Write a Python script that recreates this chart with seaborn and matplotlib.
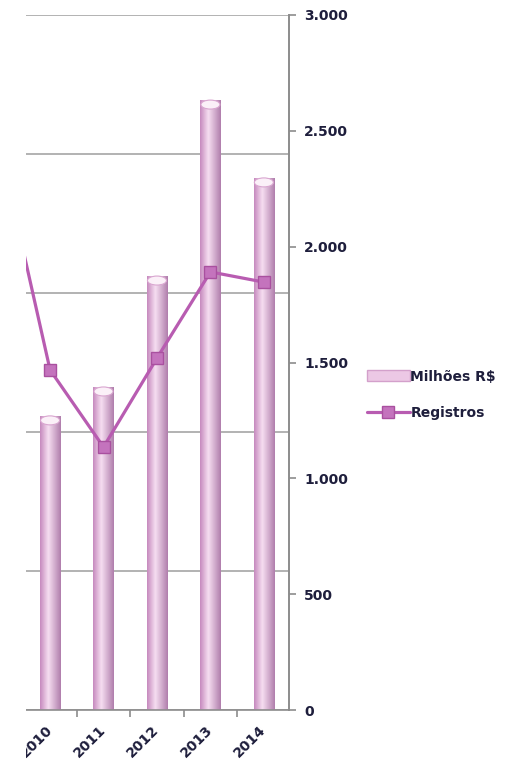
import numpy as np
import pandas as pd
import matplotlib
matplotlib.use("Agg")
import matplotlib.pyplot as plt
import seaborn as sns
from matplotlib.patches import Ellipse, Rectangle
from matplotlib.lines import Line2D
from matplotlib.ticker import FuncFormatter, FixedLocator

# Data
years = ["2009", "2010", "2011", "2012", "2013", "2014"]
milhoes = [np.nan, 1058, 1162, 1561, 2194, 1914]      # Milhões R$ (primary axis)
registros = [2495, 1468, 1135, 1519, 1891, 1847]     # Registros (secondary axis)
right_ticks = [0, 500, 1000, 1500, 2000, 2500, 3000]

sns.set_theme(style="white")
plt.rcParams["font.family"] = ["DejaVu Sans"]

TEXT = "#1e1e3c"
W, H = 512, 769
fig = plt.figure(figsize=(W / 100, H / 100), dpi=100)
ax = fig.add_axes([26 / W, (H - 710) / H, (289 - 26) / W, (710 - 15) / H])

df = pd.DataFrame({"ano": years, "milhoes": milhoes})
sns.barplot(data=df, x="ano", y="milhoes", order=years, ax=ax,
            width=0.375, color="#e6b8dc", edgecolor="none", zorder=2)

x_pos = np.arange(len(years))

# cylinder-like shading for each bar
light = np.array([246, 222, 241]) / 255
dark = np.array([198, 138, 190]) / 255
darker = np.array([176, 126, 172]) / 255
t = np.linspace(0, 1, 64)
grad = np.zeros((1, 64, 3))
for i, tv in enumerate(t):
    if tv < 0.4:
        w = tv / 0.4
        c = dark * (1 - w) + light * w
    else:
        w = (tv - 0.4) / 0.6
        c = light * (1 - w) + darker * w
    grad[0, i] = c

px_to_data = 2500 / 695
for bar in ax.patches:
    h = bar.get_height()
    if not np.isfinite(h) or h <= 0:
        continue
    x0 = bar.get_x()
    bw = bar.get_width()
    im = ax.imshow(grad, extent=[x0, x0 + bw, 0, h], aspect="auto",
                   interpolation="bilinear", zorder=2.5)
    im.set_clip_path(bar)
    eh = 9 * px_to_data
    ax.add_patch(Ellipse((x0 + bw / 2, h - eh / 2), bw * 0.95, eh,
                         facecolor="#fbf0f8", edgecolor="#d9a6d0",
                         linewidth=0.8, zorder=2.6))
ax.set_xlim(0.55, 5.47)
ax.set_ylim(0, 2500)

# gridlines of the primary axis
ax.yaxis.set_major_locator(FixedLocator([0, 500, 1000, 1500, 2000, 2500]))
ax.grid(axis="y", color="#a6a6a6", linewidth=1.2, zorder=0)
ax.set_axisbelow(True)
ax.tick_params(axis="y", left=False, labelleft=False)
for s in ["left", "top", "right"]:
    ax.spines[s].set_visible(False)
ax.spines["bottom"].set_color("#8c8c8c")
ax.spines["bottom"].set_linewidth(1.2)
ax.set_xlabel("")
ax.set_ylabel("")

# category labels and separators
ax.set_xticks(x_pos)
ax.set_xticklabels(years, rotation=45, ha="right", va="center",
                   rotation_mode="anchor", fontsize=10, fontweight="bold",
                   color=TEXT)
ax.tick_params(axis="x", which="major", length=0, pad=13)
ax.set_xticks(x_pos[:-1] + 0.5, minor=True)
ax.tick_params(axis="x", which="minor", length=5, width=1.2,
               color="#8c8c8c", bottom=True)

# secondary axis with the line
ax2 = ax.twinx()
sns.lineplot(x=x_pos, y=registros, ax=ax2, color="#b85cb1", linewidth=2.3,
             marker="s", markersize=9, markerfacecolor="#c473bd",
             markeredgecolor="#a9509f", markeredgewidth=1.0, zorder=5)
ax2.set_xlim(0.55, 5.47)
ax2.set_ylim(0, 3000)
ax2.set_yticks(right_ticks)
ax2.yaxis.set_major_formatter(FuncFormatter(lambda v, p: f"{int(v):,}".replace(",", ".")))
ax2.tick_params(axis="y", right=True, length=5, width=1.2, color="#8c8c8c",
                labelsize=10, pad=6, labelcolor=TEXT)
for lbl in ax2.get_yticklabels():
    lbl.set_fontweight("bold")
for s in ["left", "top", "bottom"]:
    ax2.spines[s].set_visible(False)
ax2.spines["right"].set_color("#8c8c8c")
ax2.spines["right"].set_linewidth(1.4)
ax2.grid(False)
ax2.set_ylabel("")

# legend
h_bar = Rectangle((0, 0), 1, 1, facecolor="#ecc8e5", edgecolor="#d3a0cb", linewidth=1)
h_line = Line2D([], [], color="#b85cb1", linewidth=2.3, marker="s", markersize=9,
                markerfacecolor="#c473bd", markeredgecolor="#a9509f")
fig.legend([h_bar, h_line], ["Milhões R$", "Registros"],
           loc="upper left", bbox_to_anchor=(354 / W, 1 - 357 / H),
           frameon=False, handlelength=3.1, handleheight=0.85, handletextpad=0.05,
           labelspacing=1.6, prop={"size": 10, "weight": "bold"},
           labelcolor=TEXT)

# white margin on the left edge
fig.add_artist(Rectangle((0, 0), 26 / W, 1, transform=fig.transFigure,
                         facecolor="white", edgecolor="none", zorder=10))

fig.savefig("out.png", dpi=100, facecolor="white")
